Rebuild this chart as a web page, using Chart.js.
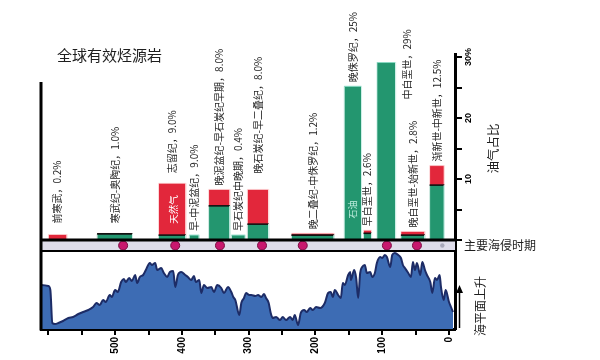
<!DOCTYPE html>
<html><head><meta charset="utf-8">
<script src="https://cdn.jsdelivr.net/npm/chart.js@4.4.1/dist/chart.umd.min.js"></script>
<style>html,body{margin:0;padding:0;background:#fff;}#wrap{width:600px;height:360px;}</style>
</head><body><div id="wrap"><canvas id="c" width="600" height="360"></canvas></div>
<script>
const titleText = '全球有效烃源岩';
const periods = ['前寒武','寒武纪-奥陶纪','志留纪','早-中泥盆纪','晚泥盆纪-早石炭纪早期','早石炭纪中晚期','晚石炭纪-早二叠纪','晚二叠纪-中侏罗纪','晚侏罗纪','早白垩世','中白垩世','晚白垩世-始新世','渐新世-中新世'];
const shareLabels = ['0.2%','1.0%','9.0%','9.0%','8.0%','0.4%','8.0%','1.2%','25%','2.6%','29%','2.8%','12.5%'];
const ageStart = [600,527,435,389,360,326,302,236,157,128,108,72,29];
const ageEnd   = [572,474,394,374,328,305,270,172,131,116,80,36,7];
const oilPct   = [0,1.0,0.8,0.8,5.6,0.8,2.6,0.8,25.2,1.1,29.1,0.8,9.0];
const gasPct   = [0.9,0.1,8.5,0,2.7,0,5.7,0.3,0,0.5,0,0.6,3.2];
const transgressionAges = [488,410,343,280,219,93,48];
const minorTransgressionAges = [10];
const seaAges = [611,600,597,594,590,585,578,570,563,555,548,540,533,528,523,518,514,508,505,500,496,491,487,484,479,475,470,467,463,458,454,448,445,440,437,431,427,422,418,413,410,406,401,395,391,386,382,379,374,371,367,362,356,352,347,341,337,331,326,323,320,314,311,307,304,299,296,290,286,281,277,274,270,267,264,259,253,249,244,238,234,231,226,222,217,213,208,204,199,193,186,181,177,174,171,166,162,159,156,151,148,147,142,139,136,133,130,126,123,118,115,111,108,103,100,96,93,88,85,81,76,72,69,66,61,57,54,51,48,43,40,36,33,28,25,21,18,14,12,8,5,0,-3,-6];
const seaLevel = [44,43,39,6,5,6,8,11,12,15,17,19,22,26,24,29,27,34,32,39,37,47,50,47,51,48,54,46,52,54,59,66,64,66,59,61,56,52,57,58,42,54,57,54,52,49,53,47,49,36,44,41,42,37,44,41,36,42,37,32,29,14,26,31,36,34,34,33,34,32,35,31,26,16,11,12,9,12,9,12,9,14,4,16,19,17,21,19,22,21,26,36,37,32,39,34,31,46,44,54,57,49,59,51,31,56,62,64,56,57,52,56,66,72,71,74,72,62,74,76,74,71,64,61,56,52,67,59,66,54,67,59,54,47,36,51,49,54,42,29,39,27,22,17];
const xTickValues = [0,50,100,150,200,250,300,350,400,450,500,550,600];
const xTickLabels = ['0','','100','','200','','300','','400','','500','',''];
const yTickValues = [0,5,10,15,20,25,30];
const yTickLabels = ['','','10','','20','','30%'];
const bandLabel = '主要海侵时期';
const shareAxisLabel = '油气占比';
const seaAxisLabel = '海平面上升';
const gasWord = '天然气';
const oilWord = '石油';

const GREEN = '#23966f', RED = '#e2273b', CJK = '"Noto Sans CJK SC","Noto Sans",sans-serif';

const datasets = [];
periods.forEach((p, i) => {
  const s = ageStart[i], e = ageEnd[i], oil = oilPct[i], tot = oilPct[i] + gasPct[i];
  if (oil > 0) {
    const hasGas = gasPct[i] > 0;
    datasets.push({
      data: [{x:s,y:0},{x:s,y:oil},{x:e,y:oil},{x:e,y:0}],
      yAxisID:'y', backgroundColor: GREEN, fill:'origin', pointRadius:0, tension:0, order:2,
      borderColor:'#bfeee0', borderWidth:1,
      segment:{
        borderColor: c => c.p0DataIndex === 1 ? (hasGas ? '#111' : '#8ad9c4') : 'rgba(205,240,232,0.9)',
        borderWidth: c => (c.p0DataIndex === 1 && hasGas) ? 1.6 : 1
      }
    });
  }
  if (gasPct[i] > 0) {
    datasets.push({
      data: [{x:s,y:0},{x:s,y:tot},{x:e,y:tot},{x:e,y:0}],
      yAxisID:'y', backgroundColor: RED, fill:'origin', pointRadius:0, tension:0, order:3,
      borderColor:'rgba(255,220,220,0.7)', borderWidth:1
    });
  }
});
datasets.push({
  data: seaAges.map((a,i)=>({x:a,y:seaLevel[i]})), yAxisID:'ys',
  fill:'origin', backgroundColor:'#3d6cb4', borderColor:'#1d2c66', borderWidth:2,
  pointRadius:0, cubicInterpolationMode:'monotone', order:5
});
datasets.push({
  data: transgressionAges.map(a=>({x:a,y:0.5})), yAxisID:'yb', showLine:false,
  pointRadius:4.5, pointBackgroundColor:'#c8176e', pointBorderColor:'#7a0a40', pointBorderWidth:1, order:0
});
datasets.push({
  data: minorTransgressionAges.map(a=>({x:a,y:0.5})), yAxisID:'yb', showLine:false,
  pointRadius:2.2, pointBackgroundColor:'#a8a8ba', pointBorderColor:'#a8a8ba', pointBorderWidth:0, order:0
});

const labelShift = {0:[0,11],1:[0,10],2:[0,10],6:[0,16],10:[21,-37]};

const decor = {
  id:'decor',
  beforeDatasetsDraw(chart){
    const {ctx, chartArea:a, scales} = chart;
    const yb = scales.yb;
    ctx.save();
    ctx.fillStyle = '#dedcea';
    ctx.fillRect(a.left, yb.top, a.right - a.left, yb.bottom - yb.top);
    ctx.restore();
  },
  afterDraw(chart){
    const {ctx, chartArea:a, scales} = chart;
    const xs = scales.x, y = scales.y, yb = scales.yb, ys = scales.ys;
    ctx.save();
    ctx.strokeStyle = '#000';
    ctx.lineWidth = 3;
    ctx.beginPath();
    ctx.moveTo(a.left, y.getPixelForValue(25.9)); ctx.lineTo(a.left, ys.bottom + 1.5);
    ctx.moveTo(a.left - 1.5, y.bottom); ctx.lineTo(a.right, y.bottom);
    ctx.stroke();
    ctx.lineWidth = 2;
    ctx.beginPath();
    ctx.moveTo(a.left, yb.bottom); ctx.lineTo(a.right, yb.bottom);
    ctx.stroke();
    // title
    ctx.fillStyle = '#1e1e1e';
    ctx.font = '15px ' + CJK;
    ctx.textAlign = 'left'; ctx.textBaseline = 'middle';
    ctx.fillText(titleText, a.left + 16, 55);
    // bar labels
    ctx.font = '10px ' + CJK;
    periods.forEach((p,i) => {
      const sh = labelShift[i] || [0,4];
      const cx = (xs.getPixelForValue(ageStart[i]) + xs.getPixelForValue(ageEnd[i]))/2 + sh[0];
      const top = y.getPixelForValue(oilPct[i] + gasPct[i]) - sh[1];
      ctx.save();
      ctx.translate(cx, top); ctx.rotate(-Math.PI/2);
      ctx.fillStyle = '#1e1e1e'; ctx.textAlign = 'left'; ctx.textBaseline = 'middle';
      ctx.fillText(p + '，' + shareLabels[i], 0, 0);
      ctx.restore();
    });
    const rot = (txt, x0, y0, font, color) => {
      ctx.save(); ctx.translate(x0, y0); ctx.rotate(-Math.PI/2);
      ctx.font = font; ctx.fillStyle = color; ctx.textAlign = 'center'; ctx.textBaseline = 'middle';
      ctx.fillText(txt, 0, 0); ctx.restore();
    };
    const bx = i => (xs.getPixelForValue(ageStart[i]) + xs.getPixelForValue(ageEnd[i]))/2;
    rot(gasWord, bx(2) + 1, y.getPixelForValue(5), '9.5px ' + CJK, '#ffffff');
    rot(oilWord, bx(8), y.getPixelForValue(5), '9px ' + CJK, '#c4f0e2');
    rot(shareAxisLabel, a.right + 38, y.getPixelForValue(15), '12.5px ' + CJK, '#1e1e1e');
    rot(seaAxisLabel, a.right + 25, ys.getPixelForValue(23), '12px ' + CJK, '#1e1e1e');
    ctx.font = '12px ' + CJK; ctx.fillStyle = '#1e1e1e'; ctx.textAlign = 'left'; ctx.textBaseline = 'middle';
    ctx.fillText(bandLabel, a.right + 9, (yb.top + yb.bottom)/2);
    // arrow
    const ax = a.right + 4.5, ay0 = ys.bottom - 1, ay1 = ys.getPixelForValue(44);
    ctx.strokeStyle = '#000'; ctx.lineWidth = 1.5;
    ctx.beginPath(); ctx.moveTo(ax, ay0); ctx.lineTo(ax, ay1 + 6); ctx.stroke();
    ctx.fillStyle = '#000';
    ctx.beginPath(); ctx.moveTo(ax, ay1); ctx.lineTo(ax - 3.5, ay1 + 8); ctx.lineTo(ax + 3.5, ay1 + 8); ctx.closePath(); ctx.fill();
    ctx.restore();
  }
};

new Chart(document.getElementById('c'), {
  type:'line',
  data:{datasets},
  options:{
    responsive:false, animation:false, devicePixelRatio:1, events:[],
    layout:{padding:{left:41, right:123, top:54, bottom:0}},
    plugins:{legend:{display:false}, tooltip:{enabled:false}, title:{display:false}},
    scales:{
      x:{type:'linear', position:'bottom', reverse:true, min:-9, max:611, z:1,
        afterBuildTicks: s => { s.ticks = xTickValues.map(v => ({value:v})); },
        afterFit: s => { s.height = 31; },
        ticks:{autoSkip:false, minRotation:90, maxRotation:90, padding:2, color:'#000',
          font:{family:'"Liberation Sans",Arial,sans-serif', size:10, weight:'bold'},
          callback: v => { const k = xTickValues.indexOf(v); return k >= 0 ? xTickLabels[k] : ''; }},
        grid:{drawOnChartArea:false, drawTicks:true, tickLength:6, color:'#000', lineWidth:2},
        border:{display:true, color:'#000', width:3}
      },
      y:{type:'linear', position:'right', stack:'main', stackWeight:186, weight:0, min:0, max:30.5, z:1,
        afterBuildTicks: s => { s.ticks = yTickValues.map(v => ({value:v})); },
        afterFit: s => { s.width = 22; },
        ticks:{autoSkip:false, minRotation:90, maxRotation:90, crossAlign:'center', padding:-2, color:'#000',
          font:{family:'"Liberation Sans",Arial,sans-serif', size:9, weight:'bold'},
          callback: v => { const k = yTickValues.indexOf(v); return k >= 0 ? yTickLabels[k] : ''; }},
        grid:{drawOnChartArea:false, drawTicks:true, tickLength:7, color:'#000', lineWidth:2},
        border:{display:true, color:'#000', width:3}
      },
      yb:{type:'linear', position:'right', stack:'main', stackWeight:11, weight:1, min:0, max:1, z:1,
        afterFit: s => { s.width = 22; },
        ticks:{display:false}, grid:{display:false, drawTicks:false},
        border:{display:true, color:'#000', width:3}
      },
      ys:{type:'linear', position:'right', stack:'main', stackWeight:78, weight:2, min:0, max:78, z:1,
        afterFit: s => { s.width = 22; },
        ticks:{display:false}, grid:{display:false, drawTicks:false},
        border:{display:true, color:'#000', width:3}
      }
    }
  },
  plugins:[decor]
});
</script></body></html>
